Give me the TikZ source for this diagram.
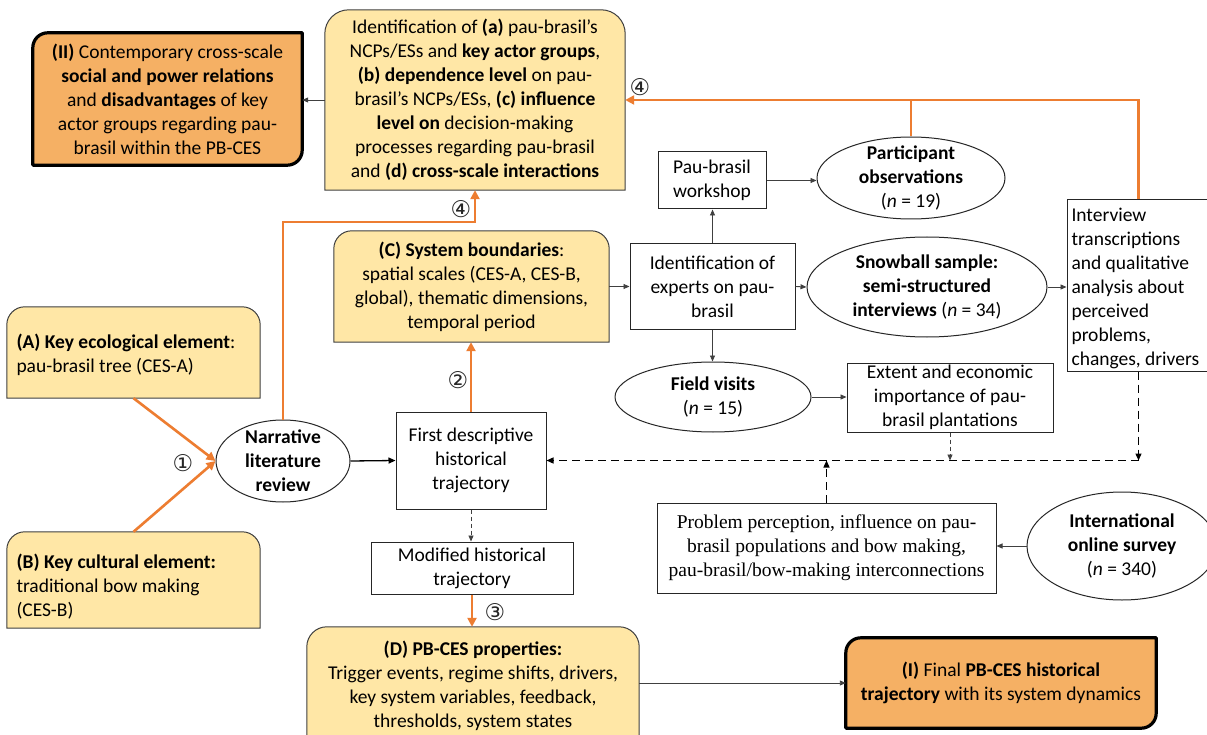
\documentclass[tikz,border=0pt]{standalone}
\usepackage{fontspec}
\setmainfont{Carlito}
\newfontfamily\dejavu{DejaVu Sans}
\newfontfamily\timesf{Liberation Serif}
\usetikzlibrary{shapes.geometric,arrows.meta,calc,backgrounds}
\definecolor{ylw}{HTML}{FFE7A6}
\definecolor{orgfill}{HTML}{F5B064}
\definecolor{orgline}{HTML}{ED7D31}
\definecolor{lnk}{HTML}{404040}
\tikzset{
  base/.style={font=\fontsize{19.5}{24}\selectfont, inner sep=0pt, align=center},
  plainbox/.style={base, draw=black!85, line width=1pt, fill=white},
  ell/.style={ellipse, draw=black!85, line width=1pt, inner sep=0pt, fill=white},
  elltext/.style={label={[base]center:#1}},
  cnum/.style={font=\dejavu\fontsize{23}{23}\selectfont, inner sep=0pt, text=black!85},
  oarrow/.style={draw=orgline, line width=2.6pt, -{Triangle[length=9pt,width=9pt]}},
  oline/.style={draw=orgline, line width=2.6pt},
  tarrow/.style={draw=lnk, line width=0.9pt, -{Triangle[length=6pt,width=5pt]}},
  karrow/.style={draw=black, line width=1.3pt, -{Triangle[length=7pt,width=6pt]}},
  darrow/.style={draw=black, line width=1.3pt, dash pattern=on 8pt off 5pt, -{Triangle[length=7pt,width=6pt]}},
  fdarrow/.style={draw=black!75, line width=0.9pt, dash pattern=on 4pt off 3pt, -{Triangle[length=6pt,width=5pt]}},
  ybox/.style={fill=ylw, draw=black!75, line width=1pt},
  obox/.style={fill=orgfill, draw=black, line width=3.2pt, line join=round},
}
% top-left and bottom-right rounded
\newcommand\diagshape[2]{%
  \path[obox] (#1.south west) -- ($(#1.north west)+(0,#2)$)
    .. controls ($(#1.north west)+(0,{0.448*#2})$) and ($(#1.north west)+({0.448*#2},0)$) .. ($(#1.north west)+(#2,0)$)
    -- (#1.north east) -- ($(#1.south east)+(0,-#2)$)
    .. controls ($(#1.south east)+(0,{-0.448*#2})$) and ($(#1.south east)+({-0.448*#2},0)$) .. ($(#1.south east)+(-#2,0)$)
    -- cycle;}
% top corners rounded
\newcommand\topshape[2]{%
  \path[ybox] (#1.south west) -- ($(#1.north west)+(0,#2)$)
    .. controls ($(#1.north west)+(0,{0.448*#2})$) and ($(#1.north west)+({0.448*#2},0)$) .. ($(#1.north west)+(#2,0)$)
    -- ($(#1.north east)+(-#2,0)$)
    .. controls ($(#1.north east)+({-0.448*#2},0)$) and ($(#1.north east)+(0,{0.448*#2})$) .. ($(#1.north east)+(0,#2)$)
    -- (#1.south east) -- cycle;}
\begin{document}
\begin{tikzpicture}[x=1pt,y=-1pt]
\useasboundingbox (0,0) rectangle (1207,735);

% ---------- nodes ----------
\node[base, minimum width=269pt, minimum height=132pt] (II) at (167.5,99)
  {\textbf{(II)} Contemporary cross-scale\\ \textbf{social and power relations}\\ and \textbf{disadvantages} of key\\ actor groups regarding pau-\\ brasil within the PB-CES};
\node[base, minimum width=300pt, minimum height=180pt] (ident) at (475,100)
  {Identification of \textbf{(a)} pau-brasil’s\\ NCPs/ESs and \textbf{key actor groups},\\ \textbf{(b) dependence level} on pau-\\ brasil’s NCPs/ESs, \textbf{(c) influence}\\ \textbf{level on} decision-making\\ processes regarding pau-brasil\\ and \textbf{(d) cross-scale interactions}};
\node[base, minimum width=275pt, minimum height=111pt] (C) at (471.5,286.5)
  {\textbf{(C) System boundaries}:\\ spatial scales (CES-A, CES-B,\\ global), thematic dimensions,\\ temporal period};
\node[base, align=flush left, text width=234pt, minimum width=253pt, minimum height=91pt] (A) at (133.5,352.5)
  {\rule{0pt}{20pt}\textbf{(A) Key ecological element}:\\ pau-brasil tree (CES-A)};
\node[base, align=flush left, text width=234pt, minimum width=253pt, minimum height=96pt] (B) at (133.5,580)
  {\rule{0pt}{27pt}\textbf{(B) Key cultural element:}\\ traditional bow making\\ (CES-B)};
\node[base, minimum width=332pt, minimum height=118pt] (D) at (473,686)
  {\textbf{(D) PB-CES properties:}\\ Trigger events, regime shifts, drivers,\\ key system variables, feedback,\\ thresholds, system states};
\node[base, minimum width=310pt, minimum height=90pt] (final) at (1001,683)
  {\textbf{(I)} Final \textbf{PB-CES historical}\\ \textbf{trajectory} with its system dynamics};

\node[ell, minimum width=134pt, minimum height=82pt,
  elltext={\textbf{Narrative}\\ \textbf{literature}\\ \textbf{review}}] (narr) at (283,461) {};
\node[plainbox, minimum width=150pt, minimum height=97pt] (first) at (471,460.5)
  {First descriptive\\ historical\\ trajectory};
\node[plainbox, minimum width=202pt, minimum height=52pt] (mod) at (472,568)
  {Modified historical\\ trajectory};
\node[plainbox, minimum width=108pt, minimum height=57pt] (workshop) at (712,180.5)
  {Pau-brasil\\ workshop};
\node[ell, minimum width=188pt, minimum height=82pt,
  elltext={\textbf{Participant}\\ \textbf{observations}\\ (\textit{n} = 19)}] (partic) at (911,178) {};
\node[plainbox, minimum width=165pt, minimum height=85pt] (experts) at (712.5,286.5)
  {Identification of\\ experts on pau-\\ brasil};
\node[ell, minimum width=240pt, minimum height=100pt,
  elltext={\textbf{Snowball sample:}\\ \textbf{semi-structured}\\ \textbf{interviews} (\textit{n} = 34)}] (snow) at (927,287) {};
\node[plainbox, align=flush left, text width=134pt, minimum width=143pt, minimum height=171pt] (interview) at (1138.5,285.5)
  {\rule{0pt}{19pt}Interview\\ transcriptions\\ and qualitative\\ analysis about\\ perceived\\ problems,\\ changes, drivers};
\node[ell, minimum width=196pt, minimum height=70pt,
  elltext={\textbf{Field visits}\\ (\textit{n} = 15)}] (field) at (713,397) {};
\node[plainbox, minimum width=206pt, minimum height=69pt] (extent) at (950,397.5)
  {Extent and economic\\ importance of pau-\\ brasil plantations};
\node[plainbox, font=\timesf\fontsize{19.5}{24}\selectfont, minimum width=339pt, minimum height=90pt] (problem) at (826.5,548)
  {Problem perception, influence on pau-\\ brasil populations and bow making,\\ pau-brasil/bow-making interconnections};
\node[ell, minimum width=190pt, minimum height=108pt,
  elltext={\textbf{International}\\ \textbf{online survey}\\ (\textit{n} = 340)}] (intl) at (1122,546) {};

% ---------- shaped backgrounds ----------
\begin{pgfonlayer}{background}
  \fill[white] (0,0) rectangle (1207,735);
  \diagshape{II}{15}
  \diagshape{final}{15}
  \topshape{ident}{24}
  \topshape{C}{18}
  \topshape{A}{18}
  \topshape{B}{18}
  \topshape{D}{20}
\end{pgfonlayer}

% ---------- connectors ----------
\draw[tarrow] (ident.west) -- (ident.west -| II.east);
\draw[oarrow] (A.south) -- (narr.west);
\draw[oarrow] (B.north) -- (narr.west);
\node[cnum] (n1) at (183,463) {①};
\draw[oarrow] (narr.north) |- ([yshift=-32pt]ident.south) -- (ident.south);
\node[cnum] (n4b) at (461,209) {④};
\draw[karrow] (narr.east) -- (first.west);
\draw[oarrow] (first.north) -- (first.north |- C.south);
\node[cnum] (n2) at (458,380) {②};
\draw[fdarrow] (first.south) -- (first.south |- mod.north);
\draw[oarrow] (mod.south) -- (mod.south |- D.north);
\node[cnum] (n3) at (495,612) {③};
\draw[tarrow] (D.east |- final.west) -- (final.west);

\draw[tarrow] (C.east) -- (experts.west);
\draw[tarrow] (experts.east) -- (snow.west);
\draw[tarrow] (snow.east) -- (snow.east -| interview.west);
\draw[tarrow] (experts.north) -- (experts.north |- workshop.south);
\draw[tarrow] (workshop.east) -- (workshop.east -| partic.west);
\draw[tarrow] (experts.south) -- (experts.south |- field.north);
\draw[tarrow] (field.east) -- (field.east -| extent.west);

\draw[oarrow] (interview.north) |- (ident.east);
\draw[oline] (partic.north) -- (partic.north |- ident.east);
\node[cnum] (n4a) at (640,87) {④};

\coordinate (dj) at (interview.south |- first.east);
\draw[darrow] (interview.south) -- (dj);
\draw[fdarrow] (extent.south) -- (extent.south |- first.east);
\draw[darrow] (dj) -- (first.east);
\draw[darrow] (problem.north) -- (problem.north |- first.east);
\draw[tarrow] (intl.west) -- (intl.west -| problem.east);
\end{tikzpicture}
\end{document}
